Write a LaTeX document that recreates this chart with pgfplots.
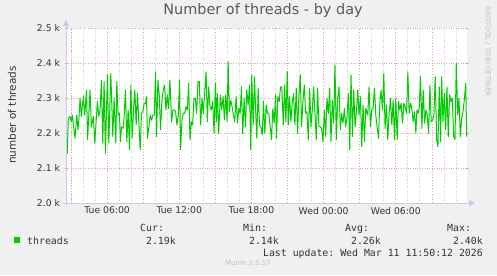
\documentclass[border=0pt]{standalone}
\usepackage{pgfplots}
\pgfplotsset{compat=1.18}
\usepackage{fontspec}
\setmainfont{DejaVu Sans}
\setmonofont{DejaVu Sans Mono}
\usetikzlibrary{arrows.meta}
\definecolor{bg}{HTML}{F0F0F0}
\definecolor{lineg}{HTML}{00CC00}
\definecolor{majgrid}{HTML}{E4A4A4}
\definecolor{mingrid}{HTML}{CFCFCF}
\definecolor{axiscol}{HTML}{C8C8F0}
\definecolor{txt}{HTML}{333333}
\begin{document}
\begin{tikzpicture}[x=1bp,y=1bp]
\fill[bg] (0,0) rectangle (497,275);
\useasboundingbox (0,0) rectangle (497,275);
\begin{axis}[
  at={(66bp,72bp)}, anchor=south west,
  scale only axis, width=401bp, height=175bp,
  xmin=0, xmax=400, ymin=2000, ymax=2500,
  axis background/.style={fill=white},
  axis line style={draw=none},
  /pgf/number format/assume math mode=true,
  xtick={41,113,185,257,329},
  xticklabels={Tue 06:00,Tue 12:00,Tue 18:00,Wed 00:00,Wed 06:00},
  minor xtick={5,17,29,53,65,89,101,125,137,161,173,197,209,233,245,269,281,305,317,341,353,377,389},
  extra x ticks={5,41,77,113,149,185,221,257,293,329,365},
  extra x tick labels={},
  extra x tick style={grid=major, major grid style={majgrid, dotted, line width=0.8bp}, tick style={majgrid, line width=0.8bp}},
  xminorgrids=true,
  minor grid style={mingrid, dotted, line width=0.8bp},
  ytick={2000,2100,2200,2300,2400,2500},
  yticklabels={2.0 k,2.1 k,2.2 k,2.3 k,2.4 k,2.5 k},
  ymajorgrids=true,
  major grid style={majgrid, dotted, line width=0.8bp},
  tick align=center,
  major tick length=3bp, minor tick length=3bp,
  xtick style={draw=none},
  ytick style={majgrid, line width=0.8bp},
  minor tick style={mingrid, line width=0.8bp},
  tick label style={font=\fontsize{9.3}{11}\selectfont, text=txt},
  xticklabel style={yshift=1bp},
  yticklabel style={xshift=-1bp},
  clip=true,
]
\addplot[lineg, line width=1bp, line join=round] coordinates {
(0,2150)(1.3,2142)(2.3,2242)(4,2247)(5.3,2232)(6.3,2251)(9,2185)(10.7,2251)(12,2209)(13,2247)
(14,2299)(15.3,2247)(17.3,2304)(18.7,2251)(20.5,2323)(21.5,2181)(24,2323)(25.3,2218)(27.3,2247)(28.7,2171)
(31.3,2290)(32.7,2247)(34,2266)(35.3,2351)(36.7,2171)(38,2347)(39.3,2142)(41.3,2366)(42.7,2171)(44.7,2370)
(46.7,2190)(48,2300)(49.7,2171)(50.7,2347)(52,2251)(53.3,2256)(54.3,2175)(55.3,2218)(57,2213)(58,2247)
(59.3,2323)(60.7,2175)(62,2266)(63.3,2152)(64.7,2337)(66,2185)(67.3,2266)(68.7,2323)(70,2223)(71.3,2313)
(72.7,2228)(74,2152)(75.3,2256)(76.7,2261)(78,2285)(79.3,2285)(80.3,2304)(81.3,2185)(82.7,2218)(84,2251)
(85.3,2237)(86.7,2251)(88,2251)(89.3,2375)(90.3,2190)(91.7,2351)(93,2309)(94.3,2209)(95.7,2294)(97,2323)
(98.3,2337)(99.7,2266)(101,2309)(102.3,2270)(103.7,2351)(105.3,2232)(106.7,2266)(108,2266)(109.3,2261)(110.7,2223)
(112,2251)(113.3,2351)(114.3,2152)(115.7,2237)(117,2256)(118.3,2256)(119.7,2275)(121,2266)(122.3,2342)(123.7,2181)
(125,2232)(126.3,2223)(127.7,2299)(129,2299)(130.3,2256)(131.7,2347)(133,2347)(134.3,2223)(135.7,2299)(137,2256)
(138.3,2313)(139.7,2375)(141,2232)(142.3,2332)(143.7,2275)(145,2266)(146.3,2290)(147.7,2199)(149,2342)(150,2232)
(151,2313)(152.3,2199)(154,2309)(155.3,2266)(156.7,2304)(158,2237)(159.3,2309)(160.7,2232)(161.7,2404)(163,2261)
(164.3,2294)(165.7,2275)(167,2251)(168.3,2232)(169.7,2304)(171,2228)(172.3,2270)(173.7,2256)(175,2332)(176.3,2199)
(177.7,2299)(179,2218)(180.3,2323)(181.7,2280)(183,2337)(184.3,2152)(185.3,2366)(186.7,2223)(188,2361)(189.3,2256)
(190.3,2185)(191.7,2328)(193,2223)(194.3,2218)(195.7,2194)(197,2290)(198.3,2199)(199.7,2280)(201,2256)(202.3,2256)
(203.7,2218)(205,2181)(206.3,2270)(207.7,2228)(209,2309)(210,2185)(211.3,2304)(212.7,2290)(214,2332)(215.3,2332)
(216.7,2223)(218,2337)(219.3,2232)(220.7,2375)(221.7,2223)(223,2304)(224.3,2232)(225.7,2290)(227,2313)(228.3,2223)
(229.7,2328)(231,2199)(232.3,2304)(233.7,2366)(235,2218)(236.3,2290)(237.7,2337)(239,2256)(240.3,2261)(241.7,2181)
(243,2328)(244.3,2218)(245.7,2266)(247,2332)(248.3,2256)(249.7,2181)(251,2328)(252.3,2218)(253.7,2218)(255,2213)
(256.3,2175)(257.7,2266)(259,2190)(260.3,2299)(261.7,2256)(263,2328)(264.3,2175)(265.7,2294)(267,2228)(268.3,2394)
(269.7,2181)(271,2299)(272.3,2332)(273.7,2209)(275,2256)(276.3,2228)(277.7,2270)(279,2218)(280.3,2247)(281.7,2313)
(283,2152)(284.3,2366)(285.7,2190)(287,2323)(288.3,2218)(289.7,2261)(291,2323)(292.3,2251)(293.7,2304)(295,2161)
(296.3,2280)(297.7,2175)(299,2270)(301,2251)(302.3,2332)(303.7,2218)(305,2266)(306.3,2270)(307.7,2328)(309,2251)
(310.3,2218)(311.7,2185)(313,2285)(314.3,2323)(315.7,2266)(317,2370)(318.3,2213)(319.7,2280)(321,2181)(322.3,2256)
(323.7,2299)(325,2223)(326.3,2294)(327.7,2181)(329,2299)(330.3,2181)(331.7,2290)(333,2266)(334.3,2285)(335.7,2228)
(337,2285)(338.3,2275)(339.7,2256)(341,2375)(342.3,2256)(343.7,2285)(345,2270)(346.3,2232)(347.7,2261)(349,2199)
(350,2266)(351,2256)(352.3,2270)(353.7,2361)(355,2213)(356.3,2323)(357.7,2228)(359,2266)(360.3,2251)(361.7,2199)
(363,2337)(364.3,2232)(365.7,2237)(367,2251)(368.3,2361)(369.7,2181)(371,2161)(372.3,2332)(373.7,2175)(374.7,2361)
(376,2232)(377.3,2313)(378.7,2209)(380,2332)(381.3,2190)(382.7,2309)(384,2290)(385.3,2299)(386.7,2190)(388,2181)
(389.3,2399)(390.7,2251)(392,2299)(393.3,2190)(394.7,2242)(396,2261)(397.3,2294)(398.7,2342)(399.7,2190)
};
\end{axis}
% axes arrows
\draw[axiscol, line width=1bp] (63,72) -- (470,72);
\fill[axiscol] (475,72) -- (469,75) -- (469,69) -- cycle;
\draw[axiscol, line width=1bp] (66,69) -- (66,250);
\fill[axiscol] (66,255) -- (63,249) -- (69,249) -- cycle;
% title and labels
\node[text=black!65, font=\fontsize{14.5}{16}\selectfont] at (263,264.5) {Number of threads - by day};
\node[text=txt, font=\fontsize{10.5}{12}\selectfont, rotate=90] at (12,160) {number of threads};
\node[text=black!25, font=\fontsize{7}{8}\selectfont, rotate=-90, anchor=west] at (488,272) {RRDTOOL / TOBI OETIKER};
% legend
\begin{scope}[every node/.style={font=\fontsize{9.9}{12}\ttfamily, text=txt, inner sep=0pt}]
\node[anchor=base west] at (140,43.5) {Cur:};
\node[anchor=base west] at (243,43.5) {Min:};
\node[anchor=base west] at (345,43.5) {Avg:};
\node[anchor=base west] at (447,43.5) {Max:};
\fill[lineg] (14,32.3) rectangle (20,38);
\node[anchor=base west] at (27,31) {threads};
\node[anchor=base east] at (176,31) {2.19k};
\node[anchor=base east] at (279,31) {2.14k};
\node[anchor=base east] at (381,31) {2.26k};
\node[anchor=base east] at (483,31) {2.40k};
\node[anchor=base east] at (483,19) {Last update: Wed Mar 11 11:50:12 2026};
\end{scope}
\node[text=black!25, font=\fontsize{7}{8}\selectfont, inner sep=0pt] at (248,12) {Munin 2.0.57};
\end{tikzpicture}
\end{document}
